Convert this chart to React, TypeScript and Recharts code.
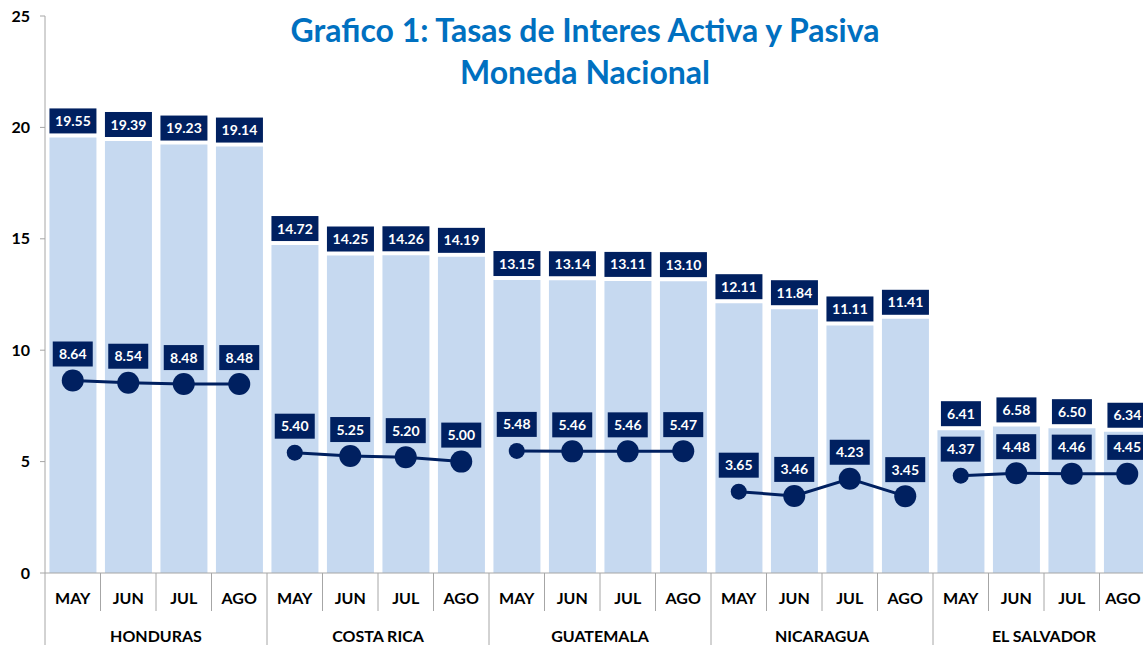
import React from 'react';
import { ComposedChart, Bar, Line, XAxis, YAxis, LabelList } from 'recharts';

const countries = ['HONDURAS', 'COSTA RICA', 'GUATEMALA', 'NICARAGUA', 'EL SALVADOR'];
const months = ['MAY', 'JUN', 'JUL', 'AGO'];
const activa = [
  19.55, 19.39, 19.23, 19.14,
  14.72, 14.25, 14.26, 14.19,
  13.15, 13.14, 13.11, 13.1,
  12.11, 11.84, 11.11, 11.41,
  6.41, 6.58, 6.5, 6.34,
];
const pasiva = [
  8.64, 8.54, 8.48, 8.48,
  5.4, 5.25, 5.2, 5.0,
  5.48, 5.46, 5.46, 5.47,
  3.65, 3.46, 4.23, 3.45,
  4.37, 4.48, 4.46, 4.45,
];
const yTicks = [0, 5, 10, 15, 20, 25];

const NAVY = '#002060';
const FONT = 'Lato, "Open Sans", sans-serif';

const W = 1155;
const H = 645;
const VIEW_W = 1143;
const Y_AXIS_W = 45;
const BAND = (W - Y_AXIS_W) / 20;

const data = activa.map((a, i) => {
  const g = Math.floor(i / 4);
  const row: any = { month: months[i % 4], country: countries[g], activa: a, idx: i };
  countries.forEach((_, k) => {
    row['p' + k] = k === g ? pasiva[i] : null;
  });
  return row;
});

const ValueBox = ({ cx, bottom, value }: { cx: number; bottom: number; value: number }) => {
  const txt = Number(value).toFixed(2);
  const w = txt.length * 7 + 12;
  const h = 25;
  return (
    <g>
      <rect x={cx - w / 2} y={bottom - h} width={w} height={h} fill={NAVY} />
      <text
        x={cx}
        y={bottom - h / 2}
        dy="0.36em"
        textAnchor="middle"
        fill="#fff"
        fontFamily={FONT}
        fontWeight={700}
        fontSize={14}
      >
        {txt}
      </text>
    </g>
  );
};

const BarLabel = (props: any) => {
  const { x, y, width, value } = props;
  if (value == null) return null;
  return <ValueBox cx={x + width / 2} bottom={y - 4} value={value} />;
};

const LineLabel = (props: any) => {
  const { x, y, value } = props;
  if (value == null) return null;
  return <ValueBox cx={x} bottom={y - 14} value={value} />;
};

const Dot = (props: any) => {
  const { cx, cy, payload, value } = props;
  if (value == null || cy == null) return null;
  const i = payload.idx;
  const r = i % 4 === 0 && i > 0 ? 8 : 11;
  return <circle key={'d' + i} cx={cx} cy={cy} r={r} fill={NAVY} />;
};

const XTick = (props: any) => {
  const { x, y, payload } = props;
  const i = payload.index;
  const left = x - BAND / 2;
  const top = y - 8;
  // keep the last month label inside the visible window
  const tx = Math.min(x, VIEW_W - 20);
  return (
    <g>
      <line x1={left} x2={left} y1={top} y2={i % 4 === 0 ? H : top + 38} stroke="#a6a6a6" strokeWidth={1} />
      <text x={tx} y={top + 25} dy="0.36em" textAnchor="middle" fill="#000" fontFamily={FONT} fontWeight={700} fontSize={16}>
        {payload.value}
      </text>
      {i % 4 === 1 && (
        <text x={x + BAND / 2} y={top + 63} dy="0.36em" textAnchor="middle" fill="#000" fontFamily={FONT} fontWeight={700} fontSize={16}>
          {countries[Math.floor(i / 4)]}
        </text>
      )}
    </g>
  );
};

export default function App() {
  return (
    <div style={{ position: 'absolute', left: 0, top: 0, width: VIEW_W, height: 645, overflow: 'hidden', background: '#fff' }}>
      <ComposedChart
        width={W}
        height={H}
        data={data}
        margin={{ top: 16, right: 0, left: 0, bottom: 0 }}
        barCategoryGap="8%"
      >
        <XAxis
          dataKey="month"
          height={72}
          interval={0}
          tickLine={false}
          axisLine={{ stroke: '#a6a6a6' }}
          tick={<XTick />}
        />
        <YAxis
          width={Y_AXIS_W}
          domain={[0, 25]}
          ticks={yTicks}
          tickSize={5}
          tickMargin={10}
          axisLine={{ stroke: '#a6a6a6' }}
          tickLine={{ stroke: '#a6a6a6' }}
          tick={{ fill: '#000', fontFamily: FONT, fontWeight: 700, fontSize: 16 }}
        />
        <Bar dataKey="activa" fill="#c6d9f0" isAnimationActive={false}>
          <LabelList dataKey="activa" content={<BarLabel />} />
        </Bar>
        {countries.map((c, k) => (
          <Line
            key={c}
            dataKey={'p' + k}
            stroke={NAVY}
            strokeWidth={3}
            dot={<Dot />}
            activeDot={false}
            connectNulls={false}
            isAnimationActive={false}
          >
            <LabelList dataKey={'p' + k} content={<LineLabel />} />
          </Line>
        ))}
      </ComposedChart>
      <div
        style={{
          position: 'absolute',
          left: 235,
          width: 700,
          top: 9,
          textAlign: 'center',
          color: '#0070c0',
          fontFamily: FONT,
          fontWeight: 700,
          fontSize: 32,
          lineHeight: '42px',
        }}
      >
        Grafico 1: Tasas de Interes Activa y Pasiva
        <br />
        Moneda Nacional
      </div>
    </div>
  );
}
